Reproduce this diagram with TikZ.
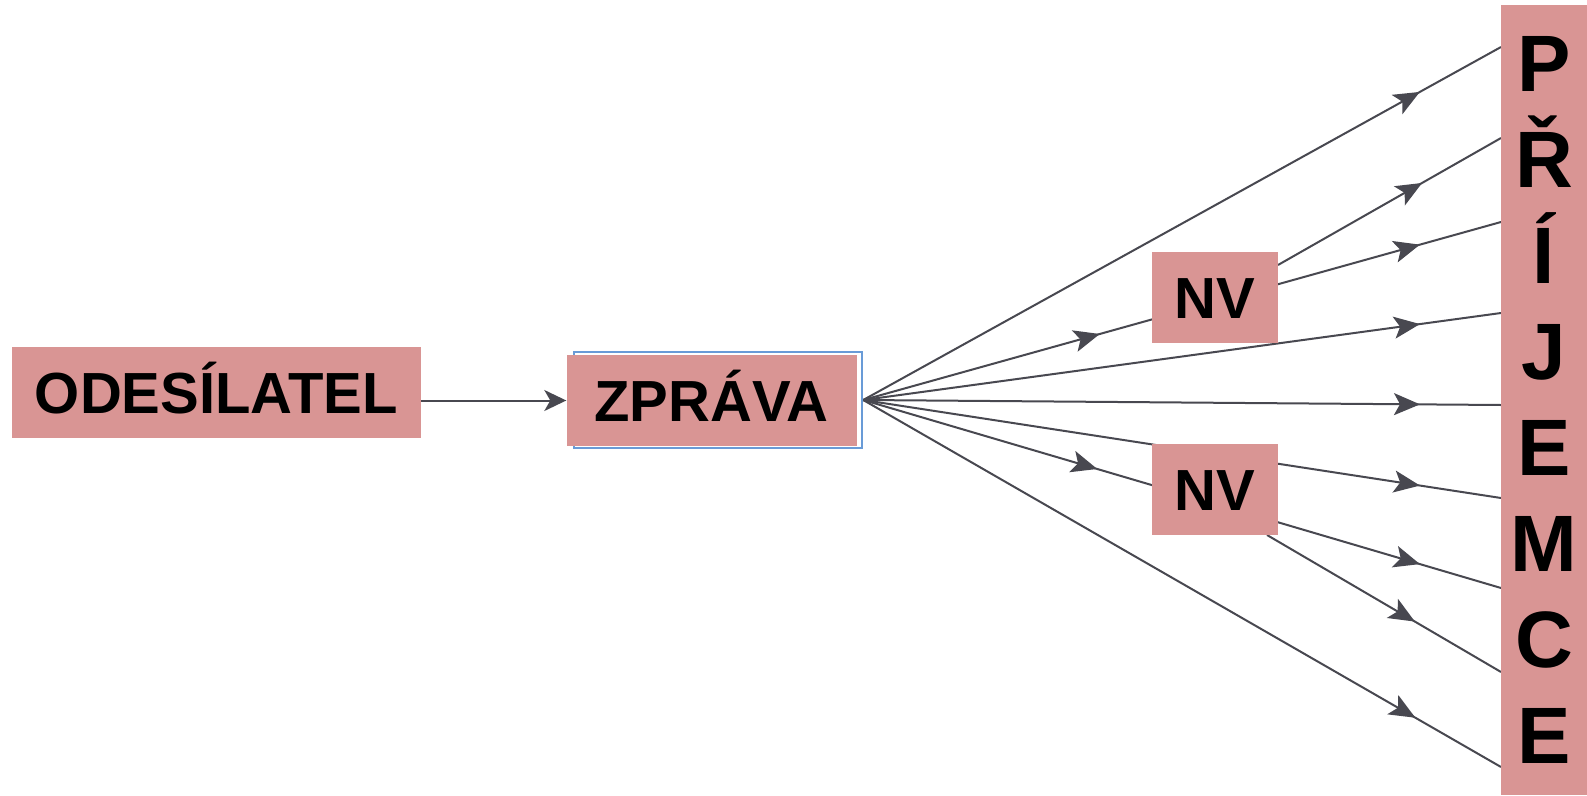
\documentclass[tikz,border=0pt]{standalone}
\usepackage{fontspec}
\setmainfont{Liberation Sans}
\usetikzlibrary{arrows.meta,decorations.markings,backgrounds}
\definecolor{boxpink}{RGB}{217,149,148}
\definecolor{lineg}{RGB}{72,72,80}
\definecolor{frameblue}{RGB}{105,155,215}
\begin{document}
\begin{tikzpicture}[x=1pt,y=-1pt,
  lab/.style={fill=boxpink, inner sep=0pt, font=\fontsize{58}{70}\selectfont\bfseries,
    text height=41.5pt, text depth=0pt},
  ln/.style={color=lineg, line width=2pt},
  >={Stealth[length=26pt,width=22pt,inset=6pt]},
  mk/.style={postaction={decorate},
    decoration={markings, mark=at position #1 with {\arrow{>}}}},
  mkk/.style 2 args={postaction={decorate},
    decoration={markings, mark=at position #1 with {\arrow{>}},
                          mark=at position #2 with {\arrow{>}}}}]
\useasboundingbox (0,0) rectangle (1587,795);

% boxes
\node[lab, minimum width=409pt, minimum height=91pt] (ode) at (216.5,392.5) {ODESÍLATEL};
\node[draw=frameblue, line width=2.4pt, minimum width=288pt, minimum height=96pt, inner sep=0pt] (zfr) at (718,400) {};
\node[lab, minimum width=290pt, minimum height=91pt] (zpr) at (711.5,400.5) {ZPRÁVA};
\node[lab, minimum width=126pt, minimum height=91pt] (nv1) at (1215,297.5) {NV};
\node[lab, minimum width=126pt, minimum height=91pt] (nv2) at (1215,489.5) {NV};
\node[fill=boxpink, inner sep=0pt, minimum width=86pt, minimum height=790pt, align=center,
  font=\fontsize{80}{96}\selectfont\bfseries] (rec) at (1544,400) {P\\Ř\\Í\\J\\E\\M\\C\\E};

% connector ends
\coordinate (o) at (zfr.east);
\coordinate (r1) at (1501,47);
\coordinate (r2) at (1501,138);
\coordinate (r3) at (1501,222);
\coordinate (r4) at (1501,313);
\coordinate (r5) at (1501,405);
\coordinate (r6) at (1501,498);
\coordinate (r7) at (1501,588);
\coordinate (r8) at (1501,672);
\coordinate (r9) at (1501,767);
\coordinate (n1) at (1278,265);
\coordinate (n2) at (1267,535);

\begin{scope}[on background layer]
\draw[ln, -{Stealth[length=22pt,width=21pt,inset=6pt]}] (ode.east |- zpr.west) -- (zpr.west);
\draw[ln, mk=0.873] (o) -- (r1);
\draw[ln, mkk={0.371}{0.873}] (o) -- (r3);
\draw[ln, mk=0.873] (o) -- (r4);
\draw[ln, mk=0.873] (o) -- (r5);
\draw[ln, mk=0.873] (o) -- (r6);
\draw[ln, mkk={0.367}{0.873}] (o) -- (r7);
\draw[ln, mk=0.866] (o) -- (r9);
\draw[ln, mk=0.646] (n1) -- (r2);
\draw[ln, mk=0.632] (n2) -- (r8);
\end{scope}
\end{tikzpicture}
\end{document}
